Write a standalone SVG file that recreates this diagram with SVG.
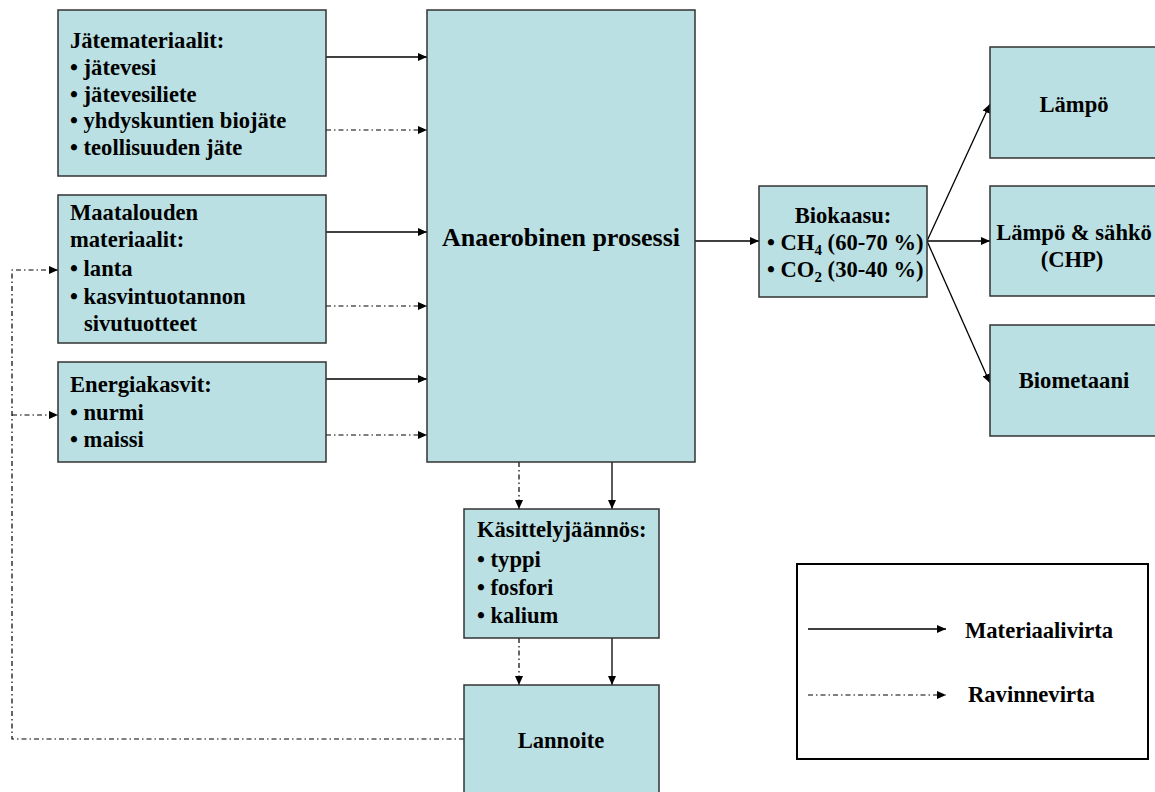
<svg xmlns="http://www.w3.org/2000/svg" width="1155" height="792" viewBox="0 0 1155 792">
<style>
.box{fill:#BBE0E3;stroke:#333;stroke-width:1.5}
.t{font-family:"Liberation Serif","Times New Roman",serif;font-weight:bold;font-size:22.6px;fill:#000}
.c{text-anchor:middle}
.solid{stroke:#000;stroke-width:1.3;fill:none}
.dd{stroke:#000;stroke-width:1.2;fill:none;stroke-dasharray:5 3 1.5 3}
</style>
<defs>
<marker id="ah" markerUnits="userSpaceOnUse" markerWidth="10" markerHeight="8" refX="9" refY="4" orient="auto">
<path d="M0,0 L9,4 L0,8 z" fill="#000"/>
</marker>
</defs>
<rect width="1155" height="792" fill="#fff"/>

<g id="connectors">
<line class="solid" x1="326" y1="57" x2="427" y2="57" marker-end="url(#ah)"/>
<line class="dd" x1="326" y1="130" x2="427" y2="130" marker-end="url(#ah)"/>
<line class="solid" x1="326" y1="232" x2="427" y2="232" marker-end="url(#ah)"/>
<line class="dd" x1="326" y1="306" x2="427" y2="306" marker-end="url(#ah)"/>
<line class="solid" x1="326" y1="379" x2="427" y2="379" marker-end="url(#ah)"/>
<line class="dd" x1="326" y1="435" x2="427" y2="435" marker-end="url(#ah)"/>
<line class="solid" x1="695" y1="241" x2="759" y2="241" marker-end="url(#ah)"/>
<line class="solid" x1="927" y1="241" x2="990" y2="104" marker-end="url(#ah)"/>
<line class="solid" x1="927" y1="241" x2="990" y2="241" marker-end="url(#ah)"/>
<line class="solid" x1="927" y1="241" x2="990" y2="383" marker-end="url(#ah)"/>
<line class="dd" x1="519" y1="462" x2="519" y2="509" marker-end="url(#ah)"/>
<line class="solid" x1="612" y1="462" x2="612" y2="509" marker-end="url(#ah)"/>
<line class="dd" x1="519" y1="638" x2="519" y2="685" marker-end="url(#ah)"/>
<line class="solid" x1="612" y1="638" x2="612" y2="685" marker-end="url(#ah)"/>
<path class="dd" d="M464,739 L12,739 L12,270 L58,270" marker-end="url(#ah)"/>
<line class="dd" x1="12" y1="415" x2="58" y2="415" marker-end="url(#ah)"/>
</g>

<g id="jatemateriaalit">
<rect class="box" x="58" y="10" width="268" height="166"/>
<text class="t" x="70" y="48">Jätemateriaalit:</text>
<text class="t" x="70" y="75">• jätevesi</text>
<text class="t" x="70" y="102">• jätevesiliete</text>
<text class="t" x="70" y="128">• yhdyskuntien biojäte</text>
<text class="t" x="70" y="155">• teollisuuden jäte</text>
</g>

<g id="maatalouden">
<rect class="box" x="58" y="195" width="268" height="148"/>
<text class="t" x="70" y="220">Maatalouden</text>
<text class="t" x="70" y="247">materiaalit:</text>
<text class="t" x="70" y="276">• lanta</text>
<text class="t" x="70" y="304">• kasvintuotannon</text>
<text class="t" x="84" y="331">sivutuotteet</text>
</g>

<g id="energiakasvit">
<rect class="box" x="58" y="362" width="268" height="100"/>
<text class="t" x="70" y="392">Energiakasvit:</text>
<text class="t" x="70" y="420">• nurmi</text>
<text class="t" x="70" y="447">• maissi</text>
</g>

<g id="anaerobinen">
<rect class="box" x="427" y="10" width="268" height="452"/>
<text class="t c" x="561" y="246" style="font-size:26px">Anaerobinen prosessi</text>
</g>

<g id="biokaasu">
<rect class="box" x="759" y="186" width="168" height="111"/>
<text class="t c" x="843" y="223">Biokaasu:</text>
<text class="t" x="767" y="250">• CH<tspan dy="5" font-size="15">4</tspan><tspan dy="-5"> (60-70 %)</tspan></text>
<text class="t" x="767" y="277">• CO<tspan dy="5" font-size="15">2</tspan><tspan dy="-5"> (30-40 %)</tspan></text>
</g>

<g id="lampo">
<rect class="box" x="990" y="47" width="170" height="111"/>
<text class="t c" x="1074" y="112">Lämpö</text>
</g>

<g id="chp">
<rect class="box" x="990" y="186" width="170" height="110"/>
<text class="t c" x="1074" y="240">Lämpö &amp; sähkö</text>
<text class="t c" x="1072" y="267">(CHP)</text>
</g>

<g id="biometaani">
<rect class="box" x="990" y="325" width="170" height="111"/>
<text class="t c" x="1074" y="388">Biometaani</text>
</g>

<g id="kasittelyjaannos">
<rect class="box" x="464" y="509" width="195" height="129"/>
<text class="t" x="477" y="537">Käsittelyjäännös:</text>
<text class="t" x="477" y="567">• typpi</text>
<text class="t" x="477" y="595">• fosfori</text>
<text class="t" x="477" y="623">• kalium</text>
</g>

<g id="lannoite">
<rect class="box" x="464" y="685" width="195" height="120"/>
<text class="t c" x="561" y="748">Lannoite</text>
</g>

<g id="legend">
<rect x="797" y="564" width="351" height="195" fill="#fff" stroke="#000" stroke-width="2"/>
<line class="solid" x1="808" y1="629" x2="946" y2="629" marker-end="url(#ah)"/>
<line class="dd" x1="808" y1="695" x2="946" y2="695" marker-end="url(#ah)"/>
<text class="t" x="965" y="638">Materiaalivirta</text>
<text class="t" x="968" y="702">Ravinnevirta</text>
</g>
</svg>
